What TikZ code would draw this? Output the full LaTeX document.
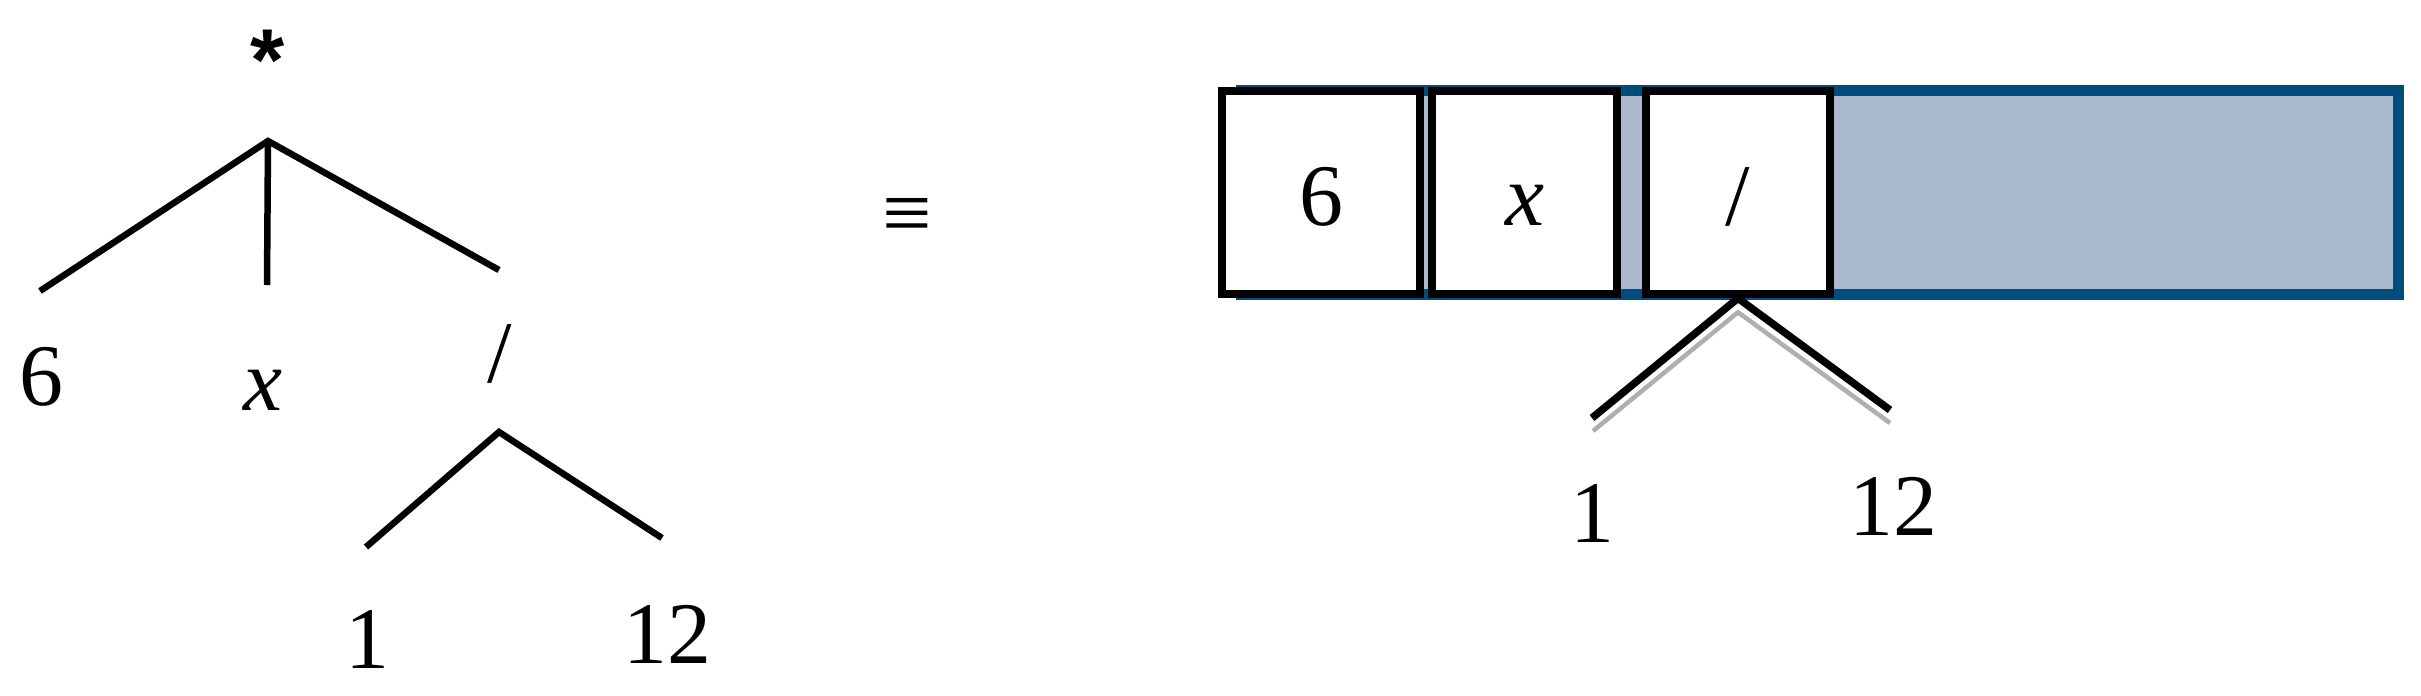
\documentclass[tikz,border=0pt]{standalone}
\usepackage{fontspec}
\setmainfont{Liberation Serif}
\setsansfont{Liberation Sans}
\usepackage{tikz}
\definecolor{cellblue}{RGB}{0,77,125}
\definecolor{cellfill}{RGB}{170,186,204}
\definecolor{shadowgray}{RGB}{175,175,175}

\begin{document}
\begin{tikzpicture}[node font=\fontsize{25}{30}\selectfont,
    lbl/.style={inner sep=0pt, anchor=base},
    branch/.style={line width=0.065cm},
    cell/.style={draw=black, fill=white, line width=0.085cm, inner sep=0pt,
      minimum height=2.03cm, text height=0.75cm, text depth=0.1cm},
    arm/.style={line width=0.075cm},
    armshadow/.style={line width=0.045cm, shadowgray}]
    \useasboundingbox (0,0) rectangle (24.21,-6.95);
    % tree on the left
    \node[lbl] (mul) at (2.68,-0.90) {\sffamily\bfseries *};
    \coordinate (top) at (2.68,-1.41);
    \coordinate (e6) at (0.40,-2.91);
    \coordinate (ex) at (2.67,-2.85);
    \coordinate (ediv) at (4.99,-2.70);
    \draw[branch] (e6) -- (top) -- (ediv);
    \draw[branch] (top) -- (ex);
    \node[lbl] (six) at (0.41,-4.05) {6};
    \node[lbl] (ix) at (2.63,-4.10) {\textit{x}};
    \node[lbl] (div) at (5.00,-3.82) {/};
    \coordinate (subtop) at (4.99,-4.32);
    \coordinate (e1) at (3.66,-5.47);
    \coordinate (e12) at (6.62,-5.38);
    \draw[branch] (e1) -- (subtop) -- (e12);
    \node[lbl] (one) at (3.67,-6.68) {1};
    \node[lbl] (twelve) at (6.67,-6.63) {12};
    % equivalence
    \node[inner sep=0pt] (eq) at (9.07,-2.20) {≡};
    % array on the right
    \draw[draw=cellblue, fill=cellfill, line width=0.11cm] (12.41,-0.90) rectangle (23.98,-2.94);
    \node[cell, minimum width=1.98cm] (c6) at (13.21,-1.925) {6};
    \node[cell, minimum width=1.85cm] (cx) at (15.245,-1.925) {\textit{x}};
    \node[cell, minimum width=1.84cm] (cdiv) at (17.38,-1.925) {/};
    \coordinate (r1) at (15.92,-4.18);
    \coordinate (r12) at (18.90,-4.10);
    \draw[armshadow] ([shift={(0.01,-0.13)}]r1) -- ([shift={(0,-0.14)}]cdiv.south) -- ([shift={(0,-0.13)}]r12);
    \draw[arm] (r1) -- (cdiv.south) -- (r12);
    \node[lbl] (rone) at (15.92,-5.42) {1};
    \node[lbl] (rtwelve) at (18.93,-5.35) {12};
\end{tikzpicture}
\end{document}
